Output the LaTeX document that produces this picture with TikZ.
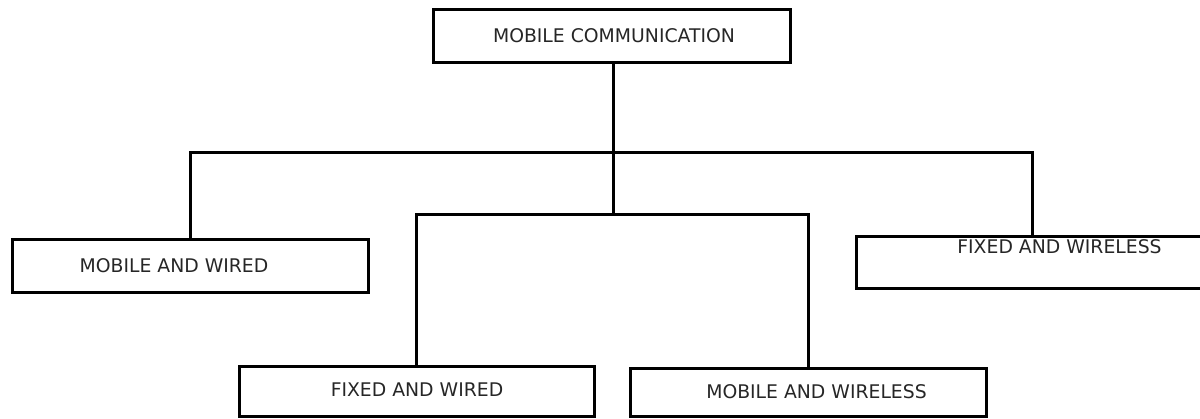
\documentclass[tikz,border=0pt]{standalone}
\usepackage{fontspec}
\setmainfont{DejaVu Sans}
\begin{document}
\begin{tikzpicture}[x=1pt,y=-1pt,
  box/.style={draw=black,line width=3pt,rectangle,inner sep=0pt},
  lbl/.style={inner sep=0pt,text=black!85,font=\fontsize{18.8}{20}\selectfont},
  wire/.style={draw=black,line width=3pt}]
\useasboundingbox (0,0) rectangle (1200,418);
\clip (0,0) rectangle (1200,418);
% boxes
\node[box,minimum width=357pt,minimum height=53pt] (top) at (611.5,35.5) {};
\node[box,minimum width=356pt,minimum height=53pt] (mw) at (190,265.5) {};
\node[box,minimum width=352pt,minimum height=52pt] (fwl) at (1032,262) {};
\node[box,minimum width=355pt,minimum height=50pt] (fw) at (416.5,391) {};
\node[box,minimum width=356pt,minimum height=48pt] (mwl) at (808,392) {};
% labels
\node[lbl] (ttop) at (614,35.5) {MOBILE COMMUNICATION};
\node[lbl] (tmw) at (174,266) {MOBILE AND WIRED};
\node[lbl] (tfwl) at (1059.5,247) {FIXED AND WIRELESS};
\node[lbl] (tfw) at (417,390) {FIXED AND WIRED};
\node[lbl] (tmwl) at (816.5,392) {MOBILE AND WIRELESS};
% connectors
\coordinate (bus) at (613,152);
\coordinate (mid) at (613,214);
\draw[wire] (top.south -| bus) -- (mid);
\draw[wire] (mw.north) |- (bus) -| (fwl.north);
\draw[wire] (fw.north) |- (mid) -| (mwl.north);
\end{tikzpicture}
\end{document}
